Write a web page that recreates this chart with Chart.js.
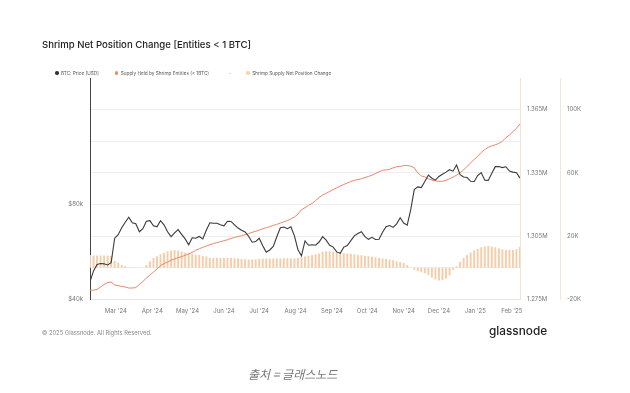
<!DOCTYPE html>
<html>
<head>
<meta charset="utf-8">
<script src="https://cdn.jsdelivr.net/npm/chart.js@4.4.1/dist/chart.umd.min.js"></script>
<style>
  html, body { margin: 0; padding: 0; background: #fff; }
  body { width: 630px; height: 393px; position: relative; overflow: hidden; font-family: Inter, "Noto Sans", sans-serif; }
  #chart { position: absolute; left: 0; top: 0; }
  .txt { position: absolute; white-space: nowrap; }
  #title { left: 42px; top: 39px; font-size: 9.6px; font-weight: 500; color: #222; }
  #legend { left: 55px; top: 70px; font-size: 4.7px; color: #555; display: flex; align-items: center; }
  #legend span.item { display: flex; align-items: center; }
  #legend i { display: inline-block; width: 3.5px; height: 3.5px; border-radius: 50%; margin-right: 2.5px; }
  #footer { left: 42px; top: 329px; font-size: 5.8px; color: #888; }
  #logo { left: 489px; top: 324px; font-size: 11.8px; font-weight: 500; color: #222; }
  #caption { left: 248px; top: 365px; font-size: 12px; font-style: italic; color: #777; font-family: "Noto Sans CJK KR", sans-serif; }
</style>
</head>
<body>
<canvas id="chart" width="630" height="393"></canvas>
<div class="txt" id="title">Shrimp Net Position Change [Entities &lt; 1 BTC]</div>
<div class="txt" id="legend">
  <span class="item" style="margin-right:16px"><i style="background:#333"></i>BTC: Price [USD]</span>
  <span class="item" style="margin-right:20px"><i style="background:#ee8a6a"></i>Supply Held by Shrimp Entities (&lt; 1BTC)</span>
  <span class="item" style="margin-right:15px">-</span>
  <span class="item"><i style="background:#f6d2ad"></i>Shrimp Supply Net Position Change</span>
</div>
<div class="txt" id="footer">© 2025 Glassnode. All Rights Reserved.</div>
<div class="txt" id="logo">glassnode</div>
<div class="txt" id="caption">출처 = 글래스노드</div>
<script>
// one value every 3 days, starting 2024-02-08
const startDate = Date.UTC(2024, 1, 8)
const stepDays = 3
const dayMs = 86400000

const monthLabels = ["Mar '24", "Apr '24", "May '24", "Jun '24", "Jul '24", "Aug '24", "Sep '24", "Oct '24", "Nov '24", "Dec '24", "Jan '25", "Feb '25"]
const priceTicks = [40000, 80000]
const supplyTicks = [1275000, 1290000, 1305000, 1320000, 1335000, 1350000, 1365000]
const netTicks = [-20000, 20000, 60000, 100000]

const btcPrice = [
  45500, 49200, 51600, 51900, 51800, 51400, 52200, 62400, 64000, 67300,
  70100, 72700, 69800, 69300, 65400, 66900, 70600, 70900, 68300, 67800,
  70900, 68800, 65400, 63100, 64900, 66400, 64200, 62100, 59500, 62600,
  62400, 63200, 62100, 66100, 69800, 69600, 69600, 68800, 68300, 70600,
  70500, 68800, 67200, 66100, 65300, 63300, 60600, 60900, 62400, 59100,
  56400, 57300, 58800, 63100, 67300, 67700, 66900, 67800, 63500, 57400,
  54900, 61200, 59300, 59500, 59300, 60700, 63100, 61500, 59300, 58500,
  56500, 55900, 58500, 59200, 61300, 63500, 64600, 65400, 63100, 61900,
  62800, 61800, 61900, 65200, 67800, 68400, 67500, 69300, 72400, 69700,
  68600, 76800, 88900, 90600, 90200, 94200, 98800, 96500, 95200, 97800,
  99400, 100900, 102700, 101600, 106300, 99100, 97400, 97000, 94400, 94300,
  98400, 100600, 95200, 95000, 100100, 105000, 105100, 104300, 104900, 101700,
  100900, 100400, 96600
]

const shrimpSupply = [
  1279400, 1279400, 1279700, 1280900, 1282100, 1283000, 1283200, 1281800, 1281600, 1281100,
  1280900, 1280400, 1280400, 1280600, 1282100, 1283500, 1285100, 1286500, 1288000, 1289400,
  1291000, 1292000, 1292700, 1293600, 1294200, 1294800, 1295300, 1295900, 1296600, 1297300,
  1298300, 1299000, 1299700, 1300300, 1300900, 1301500, 1301900, 1302400, 1302800, 1303300,
  1303900, 1304400, 1304800, 1305200, 1305700, 1306200, 1306800, 1307300, 1307900, 1308500,
  1309000, 1309500, 1310100, 1310600, 1311200, 1311800, 1312400, 1313100, 1314100, 1315400,
  1317500, 1318500, 1319600, 1320500, 1321900, 1323300, 1324500, 1325300, 1326200, 1327100,
  1327900, 1328800, 1329500, 1330200, 1330900, 1331500, 1331800, 1332200, 1332800, 1333300,
  1333900, 1334700, 1335500, 1336200, 1336400, 1336700, 1337400, 1337900, 1338100, 1338400,
  1338500, 1338200, 1337400, 1335000, 1333600, 1333100, 1332200, 1331600, 1331200, 1331000,
  1331000, 1331500, 1332200, 1333000, 1333900, 1335100, 1336400, 1338100, 1339700, 1341400,
  1342900, 1344700, 1346100, 1347100, 1347800, 1348300, 1349000, 1350000, 1351700, 1353000,
  1354500, 1356200, 1358200
]

const netChange = [
  8000, 7700, 7700, 7700, 7700, 7700, 7400, 4500, 3300, 1700,
  900, 400, 100, 100, 100, 100, 1700, 4200, 6100, 7300,
  8500, 9500, 10400, 11000, 11300, 10900, 10300, 9700, 9100, 8800,
  8300, 8000, 7500, 7100, 6200, 6100, 6100, 6200, 6400, 6200,
  6100, 6000, 5900, 5600, 5400, 5300, 5300, 5400, 5500, 5700,
  5900, 5900, 5900, 5900, 5900, 6000, 6000, 5900, 5900, 6100,
  6800, 7200, 7600, 8000, 8600, 9100, 10100, 10400, 10500, 10300,
  10000, 9700, 9300, 9100, 8800, 8500, 8200, 7900, 7600, 7300,
  6900, 6600, 6200, 5900, 5500, 5100, 4700, 4200, 3600, 3000,
  1700, 100, -1300, -2100, -2800, -3500, -4600, -6100, -7400, -8100,
  -7900, -6900, -4900, -1200, 900, 3800, 6100, 8000, 9700, 11000,
  12100, 12900, 13400, 13700, 13400, 12900, 12400, 11700, 11200, 11200,
  11300, 11700, 13300
]

// month starts as day offsets from the first sample
const monthDays = monthLabels.map((_, i) => (Date.UTC(2024, 2 + i, 1) - startDate) / dayMs)
const lastDay = (btcPrice.length - 1) * stepDays

const toPoints = (values) => values.map((v, i) => ({ x: i * stepDays, y: v }))
const fixTicks = (list) => (scale) => { scale.ticks = list.map((value) => ({ value })) }

const tickFont = { family: 'Inter', size: 6 }
const tickColor = '#777'

new Chart(document.getElementById('chart'), {
  data: {
    datasets: [
      {
        type: 'line',
        label: 'BTC: Price [USD]',
        data: toPoints(btcPrice),
        yAxisID: 'yPrice',
        borderColor: '#3a3a3a',
        borderWidth: 1.1,
        pointRadius: 0,
        order: 1,
      },
      {
        type: 'line',
        label: 'Supply Held by Shrimp Entities (< 1BTC)',
        data: toPoints(shrimpSupply),
        yAxisID: 'ySupply',
        borderColor: '#e9866a',
        borderWidth: 1,
        pointRadius: 0,
        order: 2,
      },
      {
        type: 'bar',
        label: 'Shrimp Supply Net Position Change',
        data: toPoints(netChange),
        yAxisID: 'yNet',
        backgroundColor: '#f6cda9',
        barPercentage: 0.55,
        categoryPercentage: 1,
        order: 3,
      },
    ],
  },
  options: {
    responsive: false,
    animation: false,
    layout: { padding: { top: 78, bottom: 71.6, left: 0, right: 30 } },
    plugins: {
      legend: { display: false },
      tooltip: { enabled: false },
    },
    scales: {
      x: {
        type: 'linear',
        offset: false,
        min: 0,
        max: lastDay,
        afterBuildTicks: fixTicks(monthDays),
        afterFit: (s) => { s.height = 22 },
        ticks: {
          font: tickFont,
          color: tickColor,
          padding: 8,
          maxRotation: 0,
          autoSkip: false,
          callback: (v, i) => monthLabels[i],
        },
        grid: { display: false, drawTicks: false, offset: false },
        border: { color: '#e6e6e6' },
      },
      yPrice: {
        type: 'logarithmic',
        position: 'left',
        min: 40000,
        max: 200000,
        afterBuildTicks: fixTicks(priceTicks),
        afterFit: (s) => { s.width = 90 },
        ticks: {
          font: tickFont,
          color: tickColor,
          padding: 7,
          callback: (v) => '$' + v / 1000 + 'k',
        },
        grid: { display: false, drawTicks: false },
        border: { color: '#444', width: 1 },
      },
      ySupply: {
        position: 'right',
        min: 1275000,
        max: 1380000,
        afterBuildTicks: fixTicks(supplyTicks),
        afterFit: (s) => { s.width = 40 },
        ticks: {
          font: tickFont,
          color: tickColor,
          padding: 7,
          callback: (v) => ((v - 1275000) % 30000 === 0 ? (v / 1e6).toFixed(3) + 'M' : ''),
        },
        grid: { color: '#eeeeee', drawTicks: false },
        border: { color: '#f3e2d3' },
      },
      yNet: {
        position: 'right',
        min: -20000,
        max: 120000,
        afterBuildTicks: fixTicks(netTicks),
        afterFit: (s) => { s.width = 40 },
        ticks: {
          font: tickFont,
          color: tickColor,
          padding: 7,
          callback: (v) => v / 1000 + 'K',
        },
        grid: { display: false, drawTicks: false },
        border: { color: '#f3e6d8' },
      },
    },
  },
})
</script>
</body>
</html>
